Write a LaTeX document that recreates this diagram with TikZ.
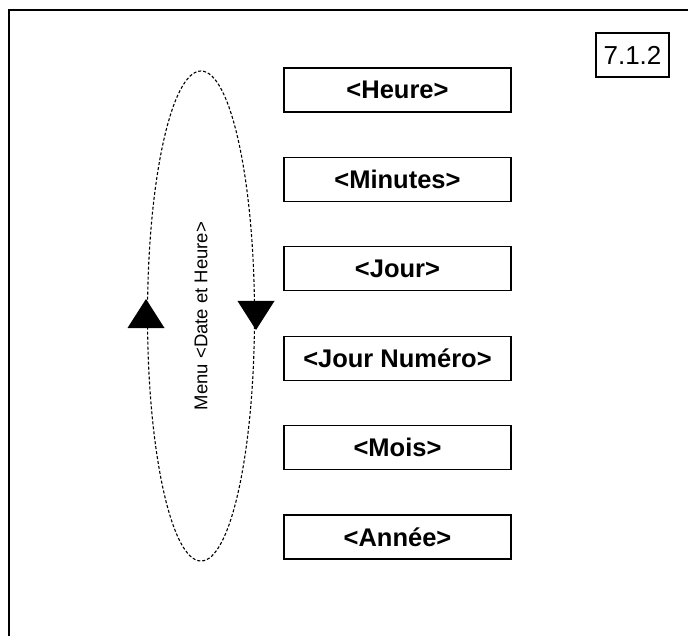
\documentclass[tikz,border=0pt]{standalone}
\usepackage{fontspec}
\setmainfont{Liberation Sans}

\begin{document}
\begin{tikzpicture}[x=1pt,y=-1pt,
    menubox/.style={draw,line width=1.3pt,minimum width=227pt,minimum height=44pt,
        inner sep=0pt,font=\fontsize{25.5}{25.5}\selectfont\bfseries},
    refbox/.style={draw,line width=1.6pt,minimum width=73pt,minimum height=44pt,
        inner sep=0pt,font=\fontsize{26}{26}\selectfont},
    loop/.style={line width=1.1pt,dash pattern=on 3pt off 2pt}]

\useasboundingbox (0,0) rectangle (688,636);

% Draw the outer frame (open at the right and at the bottom)
\draw[line width=2pt] (9,650) -- (9,10) -- (700,10);

% Draw the reference number
\node[refbox] (ref) at (632.5,55) {7.1.2};

% Draw the loop of the menu
\draw[loop] (201,316) ellipse (53.5 and 245);
\node[rotate=90,font=\fontsize{18.5}{18.5}\selectfont] (menu) at (201,316) {Menu <Date et Heure>};

% Draw the two arrow heads on the loop
\coordinate (up) at (146,299);
\coordinate (down) at (256,330);
\fill (up) -- ++(-18.5,29) -- ++(37,0) -- cycle;
\fill (down) -- ++(-18.5,-29) -- ++(37,0) -- cycle;

% Draw all the items of the menu
\foreach[count=\i from 0] \name/\txt in {heure/{<Heure>},minutes/{<Minutes>},
    jour/{<Jour>},numero/{<Jour Numéro>},mois/{<Mois>},annee/{<Année>}} {
    \node[menubox] (\name) at (397.5,90+89.4*\i) {\txt};
}

\end{tikzpicture}
\end{document}
